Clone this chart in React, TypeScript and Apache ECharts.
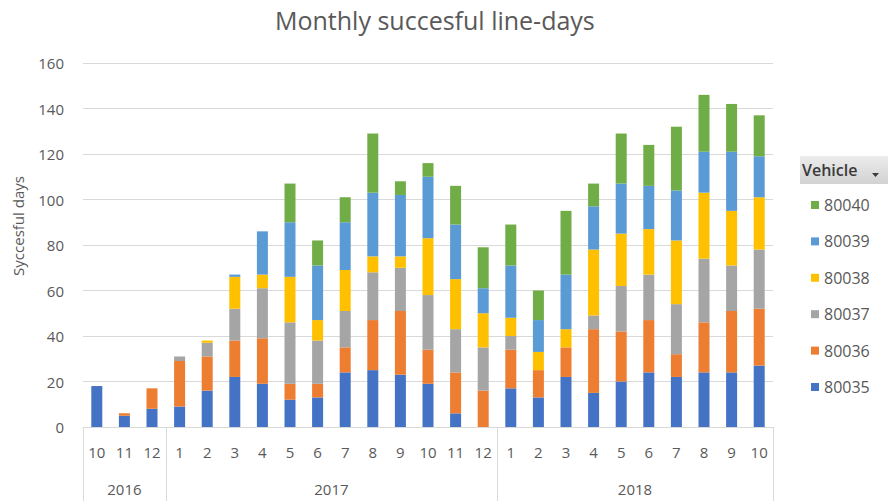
import React, { useEffect, useRef } from "react";
import * as echarts from "echarts";

const months = ["10", "11", "12", "1", "2", "3", "4", "5", "6", "7", "8", "9", "10", "11", "12", "1", "2", "3", "4", "5", "6", "7", "8", "9", "10"];
const years = ["2016", "2017", "2018"];
const yearMonthCounts = [3, 12, 10];

const v80035 = [18, 5, 8, 9, 16, 22, 19, 12, 13, 24, 25, 23, 19, 6, 0, 17, 13, 22, 15, 20, 24, 22, 24, 24, 27];
const v80036 = [0, 1, 9, 20, 15, 16, 20, 7, 6, 11, 22, 28, 15, 18, 16, 17, 12, 13, 28, 22, 23, 10, 22, 27, 25];
const v80037 = [0, 0, 0, 2, 6, 14, 22, 27, 19, 16, 21, 19, 24, 19, 19, 6, 0, 0, 6, 20, 20, 22, 28, 20, 26];
const v80038 = [0, 0, 0, 0, 1, 14, 6, 20, 9, 18, 7, 5, 25, 22, 15, 8, 8, 8, 29, 23, 20, 28, 29, 24, 23];
const v80039 = [0, 0, 0, 0, 0, 1, 19, 24, 24, 21, 28, 27, 27, 24, 11, 23, 14, 24, 19, 22, 19, 22, 18, 26, 18];
const v80040 = [0, 0, 0, 0, 0, 0, 0, 17, 11, 11, 26, 6, 6, 17, 18, 18, 13, 28, 10, 22, 18, 28, 25, 21, 18];

const seriesNames = ["80035", "80036", "80037", "80038", "80039", "80040"];
const seriesValues = [v80035, v80036, v80037, v80038, v80039, v80040];
const seriesColors = ["#4472C4", "#ED7D31", "#A5A5A5", "#FFC000", "#5B9BD5", "#70AD47"];

const FONT = "'Open Sans', 'Liberation Sans', sans-serif";
const GRAY = "#595959";
const LINE = "#d9d9d9";

export default function App() {
  const ref = useRef<HTMLDivElement>(null);

  useEffect(() => {
    if (!ref.current) return;
    const chart = echarts.init(ref.current, undefined, { renderer: "svg" });

    // year axis: half-month resolution points (boundaryGap false)
    const n = months.length;
    const yearAxisData: string[] = new Array(2 * n + 1).fill("");
    const sepIdx: number[] = [0];
    let start = 0;
    yearMonthCounts.forEach((c, i) => {
      const centerIdx = start + c;
      yearAxisData[centerIdx] = years[i];
      start += 2 * c;
      sepIdx.push(start);
    });

    const option: any = {
      animation: false,
      backgroundColor: "#ffffff",
      textStyle: { fontFamily: FONT },
      title: {
        text: "Monthly succesful line-days",
        left: 270,
        top: 2,
        textStyle: { fontFamily: FONT, fontSize: 25, fontWeight: "normal", color: GRAY },
      },
      grid: { left: 83, right: 115, top: 63, bottom: 74 },
      legend: {
        orient: "vertical",
        left: 806,
        top: 192,
        data: seriesNames.slice().reverse(),
        icon: "rect",
        itemWidth: 8,
        itemHeight: 8,
        itemGap: 20.4,
        textStyle: { fontFamily: FONT, fontSize: 16, color: GRAY, lineHeight: 16 },
        selectedMode: false,
      },
      xAxis: [
        {
          type: "category",
          data: months,
          position: "bottom",
          boundaryGap: true,
          axisLine: { show: true, lineStyle: { color: LINE } },
          axisTick: { show: false },
          axisLabel: { interval: 0, color: GRAY, fontSize: 15, margin: 17, fontFamily: FONT },
        },
        {
          type: "category",
          data: yearAxisData,
          position: "bottom",
          boundaryGap: false,
          offset: 0,
          axisLine: { show: false },
          axisTick: {
            show: true,
            interval: (idx: number) => sepIdx.indexOf(idx) >= 0,
            length: 80,
            lineStyle: { color: LINE },
          },
          axisLabel: { interval: 0, color: GRAY, fontSize: 15, margin: 54, fontFamily: FONT },
        },
      ],
      yAxis: {
        type: "value",
        min: 0,
        max: 160,
        interval: 20,
        axisLine: { show: false },
        axisTick: { show: false },
        splitLine: { lineStyle: { color: LINE, width: 1 } },
        axisLabel: { color: GRAY, fontSize: 15, margin: 19, fontFamily: FONT },
      },
      graphic: [
        {
          type: "text",
          x: 18,
          y: 226,
          rotation: Math.PI / 2,
          style: {
            text: "Syccesful days",
            fontFamily: FONT,
            fontSize: 15,
            fill: GRAY,
            align: "center",
            verticalAlign: "middle",
          },
        },
        {
          type: "rect",
          shape: { x: 800, y: 156, width: 88, height: 28 },
          style: {
            fill: new echarts.graphic.LinearGradient(0, 0, 0, 1, [
              { offset: 0, color: "#ececec" },
              { offset: 1, color: "#d2d2d2" },
            ]),
          },
        },
        {
          type: "text",
          x: 802,
          y: 170,
          style: {
            text: "Vehicle",
            fontFamily: FONT,
            fontSize: 16,
            fontWeight: 600,
            fill: "#3a3a3a",
            align: "left",
            verticalAlign: "middle",
          },
        },
        {
          type: "polygon",
          shape: { points: [[872, 173], [879, 173], [875.5, 177]] },
          style: { fill: "#3a3a3a" },
        },
      ],
      series: seriesNames.map((name, i) => ({
        name,
        type: "bar",
        stack: "total",
        xAxisIndex: 0,
        barWidth: 11,
        itemStyle: { color: seriesColors[i] },
        data: seriesValues[i],
      })),
    };

    chart.setOption(option);
    return () => chart.dispose();
  }, []);

  return (
    <div
      ref={ref}
      style={{ position: "fixed", left: 0, top: 0, width: 888, height: 501, background: "#fff" }}
    />
  );
}
